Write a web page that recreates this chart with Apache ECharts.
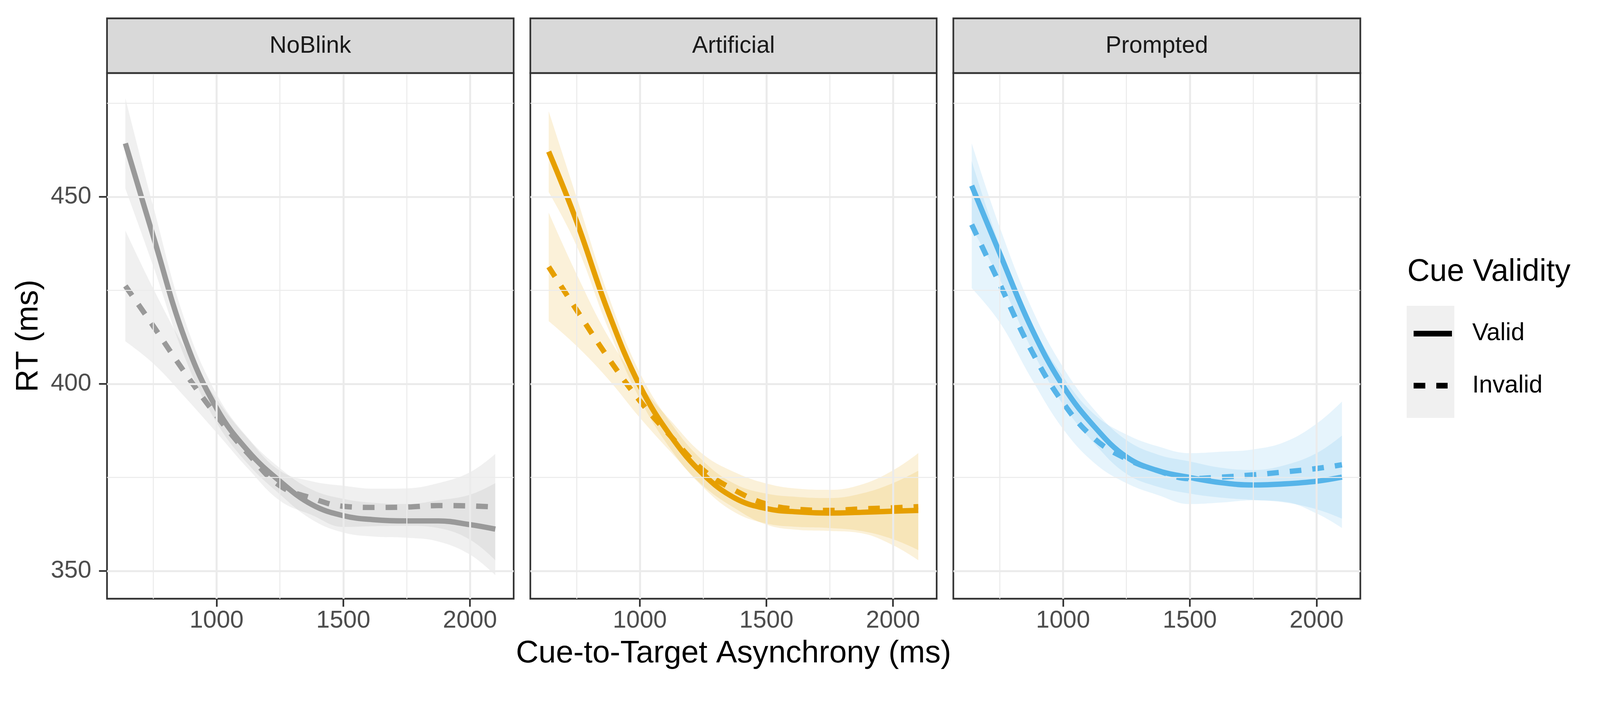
<!DOCTYPE html>
<html>
<head>
<meta charset="utf-8">
<script src="https://cdn.jsdelivr.net/npm/echarts@6/dist/echarts.min.js"></script>
<style>
html, body { margin: 0; padding: 0; background: #ffffff; overflow: hidden; }
#chart { width: 100vw; height: 100vh; }
</style>
</head>
<body>
<div id="chart"></div>
<script>
var asynchrony = [640, 750, 875, 1000, 1125, 1250, 1375, 1500, 1625, 1750, 1875, 2000, 2100];

var panels = ['NoBlink', 'Artificial', 'Prompted'];
var panelColors = ['#999999', '#E69F00', '#56B4E9'];

// NoBlink
var noblinkValid      = [464.3, 439.5, 412.0, 393.5, 382.0, 374.0, 367.8, 364.8, 363.7, 363.4, 363.4, 362.4, 361.2];
var noblinkValidLo    = [452.2, 431.5, 407.0, 389.7, 378.5, 370.5, 363.8, 360.3, 359.2, 358.9, 357.9, 354.4, 348.9];
var noblinkValidHi    = [476.4, 447.5, 417.0, 397.3, 385.5, 377.5, 371.8, 369.3, 368.2, 367.9, 368.9, 370.4, 373.5];
var noblinkInvalid    = [426.2, 415.5, 403.0, 391.5, 381.3, 372.8, 369.5, 367.3, 367.0, 367.1, 367.5, 367.4, 367.1];
var noblinkInvalidLo  = [411.4, 405.5, 396.5, 387.0, 377.3, 368.8, 365.0, 361.8, 362.0, 362.1, 361.5, 358.4, 352.9];
var noblinkInvalidHi  = [441.0, 425.5, 409.5, 396.0, 385.3, 376.8, 374.0, 372.8, 372.0, 372.1, 373.5, 376.4, 381.3];

// Artificial
var artificialValid     = [462.1, 443.5, 419.3, 399.5, 385.8, 375.9, 369.5, 366.7, 365.8, 365.5, 365.7, 366.0, 366.2];
var artificialValidLo   = [451.3, 437.0, 414.8, 396.0, 382.3, 372.4, 365.7, 362.7, 361.8, 361.5, 360.7, 358.5, 355.6];
var artificialValidHi   = [472.9, 450.0, 423.8, 403.0, 389.3, 379.4, 373.3, 370.7, 369.8, 369.5, 370.7, 373.5, 376.8];
var artificialInvalid   = [431.3, 419.8, 407.0, 395.5, 385.8, 377.0, 371.6, 367.9, 366.5, 366.2, 366.6, 366.9, 367.2];
var artificialInvalidLo = [416.8, 410.2, 401.3, 391.0, 381.6, 372.8, 366.8, 362.4, 361.0, 360.7, 360.1, 356.9, 352.9];
var artificialInvalidHi = [445.8, 429.4, 412.7, 400.0, 390.0, 381.2, 376.4, 373.4, 372.0, 371.7, 373.1, 376.9, 381.5];

// Prompted
var promptedValid     = [453.0, 435.0, 415.0, 399.5, 388.5, 380.5, 376.8, 375.0, 373.6, 373.0, 373.3, 374.0, 375.1];
var promptedValidLo   = [441.7, 428.0, 409.5, 394.5, 384.0, 376.0, 372.5, 370.7, 369.6, 369.0, 368.3, 366.5, 364.0];
var promptedValidHi   = [464.3, 442.0, 420.5, 404.5, 393.0, 385.0, 381.1, 379.3, 377.6, 377.0, 378.3, 381.5, 386.2];
var promptedInvalid   = [442.6, 426.8, 409.0, 395.0, 385.3, 380.0, 376.8, 374.7, 375.1, 375.7, 376.5, 377.4, 378.4];
var promptedInvalidLo = [425.6, 416.5, 401.5, 388.0, 378.8, 373.5, 370.3, 367.9, 368.3, 368.9, 368.5, 365.4, 361.5];
var promptedInvalidHi = [459.6, 437.1, 416.5, 402.0, 391.8, 386.5, 383.3, 381.5, 381.9, 382.5, 384.5, 389.4, 395.3];

var xTicks = [1000, 1500, 2000];
var xMinor = [750, 1250, 1750];
var yTicks = [350, 400, 450];
var yMinor = [375, 425, 475];

var FONT = '"Liberation Sans", Arial, sans-serif';

// layout is designed on a 4800 x 1800 board and scaled to the viewport
var el = document.getElementById('chart');
var sx = (el.clientWidth || 4800) / 4800;
var sy = (el.clientHeight || 1800) / 1800;
var s = Math.min(sx, sy);
function X(v) { return v * sx; }
function Y(v) { return v * sy; }
function S(v) { return v * s; }

var gridBoxes = [
  { left: 321, top: 187, width: 1220, height: 1346 },
  { left: 1591, top: 187, width: 1219, height: 1346 },
  { left: 2860, top: 187, width: 1221, height: 1346 }
];

// value first, asynchrony second, so that stacking works on the RT dimension
function pairs(vals) {
  return asynchrony.map(function (x, i) { return [vals[i], x]; });
}
function spans(lo, hi) {
  return asynchrony.map(function (x, i) { return [+(hi[i] - lo[i]).toFixed(2), x]; });
}
var ENC = { x: 1, y: 0 };

function gridLines() {
  var d = [];
  xMinor.forEach(function (v) { d.push({ xAxis: v, lineStyle: { width: S(3) } }); });
  yMinor.forEach(function (v) { d.push({ yAxis: v, lineStyle: { width: S(3) } }); });
  xTicks.forEach(function (v) { d.push({ xAxis: v, lineStyle: { width: S(6) } }); });
  yTicks.forEach(function (v) { d.push({ yAxis: v, lineStyle: { width: S(6) } }); });
  return {
    silent: true, symbol: ['none', 'none'], animation: false,
    label: { show: false }, emphasis: { disabled: true },
    lineStyle: { color: '#EBEBEB', type: 'solid' },
    data: d
  };
}

function bandBase(gi, stackId, lo, withGrid) {
  var sr = {
    type: 'line', xAxisIndex: gi, yAxisIndex: gi, stack: stackId, encode: ENC,
    data: pairs(lo), symbol: 'none', smooth: 0.4,
    lineStyle: { opacity: 0, width: 0 }, silent: true
  };
  if (withGrid) sr.markLine = gridLines();
  return sr;
}
function band(gi, stackId, lo, hi, color) {
  return {
    type: 'line', xAxisIndex: gi, yAxisIndex: gi, stack: stackId, encode: ENC,
    data: spans(lo, hi), symbol: 'none', smooth: 0.4,
    lineStyle: { opacity: 0, width: 0 },
    areaStyle: { color: color, opacity: 0.15 }, silent: true
  };
}
function curve(gi, name, vals, color, dash) {
  return {
    name: name, type: 'line', xAxisIndex: gi, yAxisIndex: gi, encode: ENC,
    data: pairs(vals), symbol: 'none', smooth: 0.4,
    lineStyle: { color: color, width: S(16), type: dash, cap: 'butt' },
    itemStyle: { color: color }, silent: true
  };
}

var panelData = [
  [noblinkValid, noblinkValidLo, noblinkValidHi, noblinkInvalid, noblinkInvalidLo, noblinkInvalidHi],
  [artificialValid, artificialValidLo, artificialValidHi, artificialInvalid, artificialInvalidLo, artificialInvalidHi],
  [promptedValid, promptedValidLo, promptedValidHi, promptedInvalid, promptedInvalidLo, promptedInvalidHi]
];

var series = [];
panelData.forEach(function (p, gi) {
  var c = panelColors[gi];
  series.push(bandBase(gi, 'v' + gi, p[1], true));
  series.push(band(gi, 'v' + gi, p[1], p[2], c));
  series.push(curve(gi, 'Valid', p[0], c, 'solid'));
  series.push(bandBase(gi, 'i' + gi, p[4], false));
  series.push(band(gi, 'i' + gi, p[4], p[5], c));
  series.push(curve(gi, 'Invalid', p[3], c, [S(35), S(33)]));
});

function plain(v) { return String(v); }

var xAxes = gridBoxes.map(function (g, gi) {
  var ax = {
    type: 'value', gridIndex: gi, min: 567.5, max: 2172.5,
    axisLine: { show: false },
    splitLine: { show: false },
    axisTick: { show: true, length: S(24), customValues: xTicks, lineStyle: { color: '#333333', width: S(5) } },
    axisLabel: { customValues: xTicks, formatter: plain, fontSize: S(73), color: '#4D4D4D', fontFamily: FONT, margin: S(30) }
  };
  if (gi === 1) {
    ax.name = 'Cue-to-Target Asynchrony (ms)';
    ax.nameLocation = 'middle';
    ax.nameGap = S(118);
    ax.nameTextStyle = { fontSize: S(94), color: '#000000', fontFamily: FONT };
  }
  return ax;
});
var yAxes = gridBoxes.map(function (g, gi) {
  var ax = {
    type: 'value', gridIndex: gi, min: 342.6, max: 483.1,
    axisLine: { show: false },
    splitLine: { show: false },
    axisTick: { show: gi === 0, length: S(24), customValues: yTicks, lineStyle: { color: '#333333', width: S(5) } },
    axisLabel: { show: gi === 0, customValues: yTicks, formatter: plain, fontSize: S(73), color: '#4D4D4D', fontFamily: FONT, margin: S(47) }
  };
  if (gi === 0) {
    ax.name = 'RT (ms)';
    ax.nameLocation = 'middle';
    ax.nameRotate = 90;
    ax.nameGap = S(188);
    ax.nameTextStyle = { fontSize: S(94), color: '#000000', fontFamily: FONT };
  }
  return ax;
});

var graphics = [];
gridBoxes.forEach(function (g, gi) {
  graphics.push({
    type: 'rect', z: 10,
    shape: { x: X(g.left), y: Y(47), width: X(g.width), height: Y(g.top - 47) },
    style: { fill: '#D9D9D9', stroke: '#333333', lineWidth: S(5) }
  });
  graphics.push({
    type: 'text', z: 11, x: X(g.left + g.width / 2), y: Y(118),
    style: { text: panels[gi], fontSize: S(71), fontFamily: FONT, fill: '#1A1A1A', align: 'center', verticalAlign: 'middle' }
  });
});
graphics.push({
  type: 'text', z: 11, x: X(4222), y: Y(697),
  style: { text: 'Cue Validity', fontSize: S(93), fontFamily: FONT, fill: '#000000', align: 'left', verticalAlign: 'middle' }
});
graphics.push({
  type: 'rect', z: 1,
  shape: { x: X(4220), y: Y(783), width: X(143), height: Y(287) },
  style: { fill: '#F0F0F0' }
});

var option = {
  animation: false,
  backgroundColor: '#ffffff',
  grid: gridBoxes.map(function (g) {
    return {
      left: X(g.left), top: Y(g.top), width: X(g.width), height: Y(g.height),
      show: true, backgroundColor: '#ffffff', borderColor: '#333333', borderWidth: S(5)
    };
  }),
  xAxis: xAxes,
  yAxis: yAxes,
  legend: {
    orient: 'vertical', left: X(4235), top: Y(815), z: 20,
    itemWidth: S(115), itemHeight: S(17), itemGap: Y(65), selectedMode: false,
    textStyle: { fontSize: S(73), color: '#000000', fontFamily: FONT, lineHeight: S(80), padding: [0, 0, 0, S(55)] },
    data: [
      { name: 'Valid', icon: 'path://M0,0h115v17h-115z', itemStyle: { color: '#000000' } },
      { name: 'Invalid', icon: 'path://M0,0h35v17h-35zM68,0h34v17h-34zM114.99,0h0.01v17h-0.01z', itemStyle: { color: '#000000' } }
    ]
  },
  graphic: graphics,
  series: series
};

var myChart = echarts.init(el, null, { renderer: 'canvas' });
myChart.setOption(option);
</script>
</body>
</html>
